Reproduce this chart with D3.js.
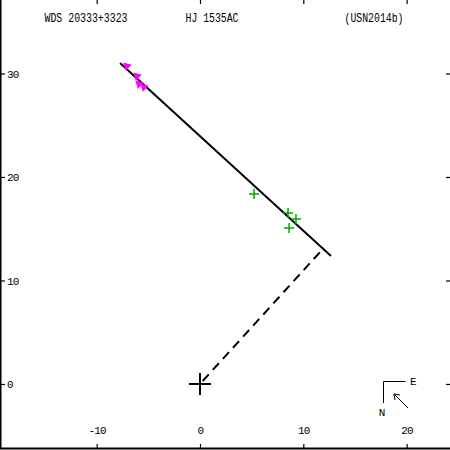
<!DOCTYPE html>
<html><head><meta charset="utf-8">
<script src="https://cdn.jsdelivr.net/npm/d3@7"></script>
<style>html,body{margin:0;padding:0;background:#fff;}svg{display:block;}</style>
</head><body>
<script>
// ---- data ----
const titleTexts = ["WDS 20333+3323", "HJ 1535AC", "(USN2014b)"];
const xTicks = [-10, 0, 10, 20];
const yTicks = [0, 10, 20, 30];
const magentaX = [-7.07, -6.10, -5.91, -5.42];
const magentaY = [30.72, 29.76, 28.99, 28.70];
const greenX = [5.23, 8.52, 9.29, 8.62];
const greenY = [18.36, 16.52, 15.94, 15.07];
const orbitX = [-7.74, 12.68];
const orbitY = [31.01, 12.37];
const periX = [0, 11.92];
const periY = [0, 13.07];

(function () {
const W = 450, H = 450;
const x = d3.scaleLinear().domain([-19.36, 24.2]).range([0, 450]);
const y = d3.scaleLinear().domain([-6.38, 37.1]).range([450, 0]);

const svg = d3.select("body").append("svg").attr("width", W).attr("height", H);
const font = "Liberation Mono, DejaVu Sans Mono, monospace";

// frame
svg.append("line").attr("x1", 0.5).attr("x2", 0.5).attr("y1", 0).attr("y2", 449).attr("stroke", "#000").attr("stroke-width", 2);
svg.append("line").attr("x1", 0).attr("x2", 450).attr("y1", 448.5).attr("y2", 448.5).attr("stroke", "#000").attr("stroke-width", 2);

// axes
const gBottom = svg.append("g").attr("transform", "translate(0,449)")
  .call(d3.axisTop(x).tickValues(xTicks).tickSize(5).tickPadding(10).tickFormat(d => String(d)));
const gTop = svg.append("g").attr("transform", "translate(0,0)")
  .call(d3.axisBottom(x).tickValues(xTicks).tickSize(4).tickFormat(""));
const gLeft = svg.append("g").attr("transform", "translate(0,0)")
  .call(d3.axisRight(y).tickValues(yTicks).tickSize(5).tickPadding(2).tickFormat(d => String(d)));
const gRight = svg.append("g").attr("transform", "translate(450,0)")
  .call(d3.axisLeft(y).tickValues(yTicks).tickSize(4).tickFormat(""));
[gBottom, gTop, gLeft, gRight].forEach(g => {
  g.select(".domain").remove();
  g.selectAll(".tick line").attr("stroke", "#000").attr("stroke-width", 1.2);
  g.selectAll("text").attr("font-family", font).attr("font-size", 11).attr("fill", "#000").attr("letter-spacing", -0.8);
});

// titles
const titleX = [86, 212, 374];
const titleW = [83, 53, 59];
titleTexts.forEach((t, i) => {
  svg.append("text").attr("x", titleX[i] - titleW[i] / 2).attr("y", 22)
    .attr("font-family", font).attr("font-size", 12)
    .attr("textLength", titleW[i]).attr("lengthAdjust", "spacingAndGlyphs")
    .text(t);
});

// orbit line (solid)
svg.append("line").attr("x1", x(orbitX[0])).attr("y1", y(orbitY[0]))
  .attr("x2", x(orbitX[1])).attr("y2", y(orbitY[1]))
  .attr("stroke", "#000").attr("stroke-width", 2);

// dashed line to closest approach
svg.append("line").attr("x1", x(periX[0])).attr("y1", y(periY[0]))
  .attr("x2", x(periX[1])).attr("y2", y(periY[1]))
  .attr("stroke", "#000").attr("stroke-width", 2)
  .attr("stroke-dasharray", "9,6").attr("stroke-dashoffset", 11);

// primary cross
const cx = x(0), cy = y(0);
svg.append("line").attr("x1", cx - 11).attr("x2", cx + 11).attr("y1", cy).attr("y2", cy).attr("stroke", "#000").attr("stroke-width", 2);
svg.append("line").attr("x1", cx).attr("x2", cx).attr("y1", cy - 11).attr("y2", cy + 11).attr("stroke", "#000").attr("stroke-width", 2);

// magenta triangles
const tri = d3.symbol().type(d3.symbolTriangle).size(32);
magentaX.forEach((v, i) => {
  svg.append("path").attr("d", tri())
    .attr("transform", `translate(${x(v)},${y(magentaY[i])}) rotate(-45)`)
    .attr("fill", "#ff00ff");
});

// green plus
greenX.forEach((v, i) => {
  const px = x(v), py = y(greenY[i]);
  svg.append("path").attr("d", `M${px - 5},${py}H${px + 5}M${px},${py - 5}V${py + 5}`)
    .attr("stroke", "#00aa00").attr("stroke-width", 1.5).attr("fill", "none");
});

// orientation indicator
const o = svg.append("g").attr("stroke", "#000").attr("stroke-width", 1).attr("fill", "none");
o.append("path").attr("d", "M405.5,381.5H383.5V403");
o.append("path").attr("d", "M408,408L394,394M394,394L400,395M394,394L395,400");
svg.append("text").attr("x", 410).attr("y", 385).attr("font-family", font).attr("font-size", 11).text("E");
svg.append("text").attr("x", 382).attr("y", 416).attr("text-anchor", "middle").attr("font-family", font).attr("font-size", 11).text("N");
})();
</script>
</body></html>
